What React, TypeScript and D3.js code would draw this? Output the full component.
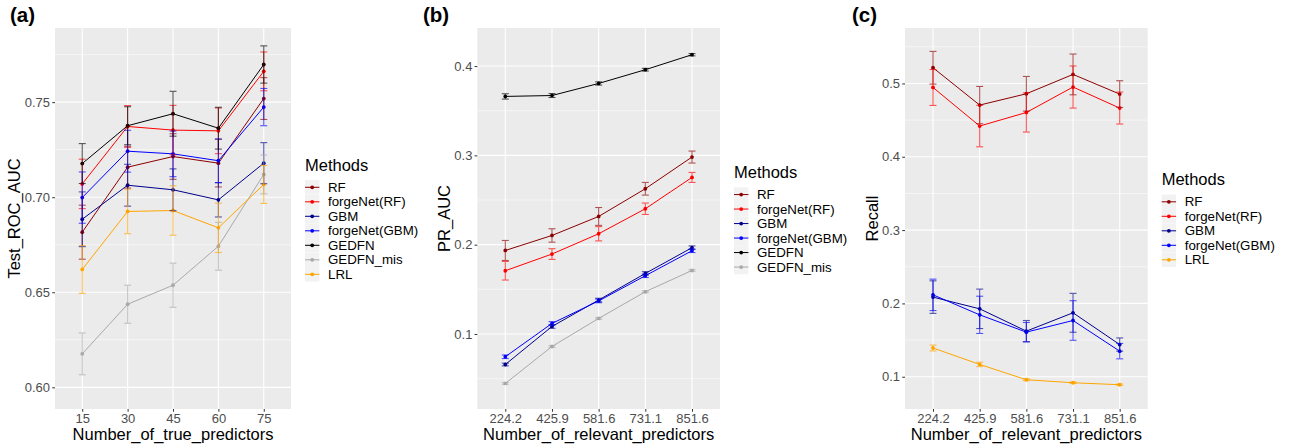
import React, { useRef, useEffect } from "react";
import * as d3 from "d3";

// ---- data ----
const methods = ["RF", "forgeNet(RF)", "GBM", "forgeNet(GBM)", "GEDFN", "GEDFN_mis", "LRL"];
const methodColors = ["#8B0000", "#FF0000", "#00008B", "#0000FF", "#000000", "#A9A9A9", "#FFA500"];

// (a) Test_ROC_AUC
const aCats = ["15", "30", "45", "60", "75"];
const aRF = [0.6816, 0.7158, 0.7214, 0.7179, 0.7519];
const aRFErr = [0.0142, 0.011, 0.012, 0.0125, 0.011];
const aFRF = [0.707, 0.7372, 0.7353, 0.7349, 0.7662];
const aFRFErr = [0.013, 0.011, 0.013, 0.012, 0.0102];
const aGBM = [0.6884, 0.7063, 0.7039, 0.6986, 0.7179];
const aGBMErr = [0.0144, 0.011, 0.011, 0.009, 0.0108];
const aFGBM = [0.6998, 0.7242, 0.7228, 0.7192, 0.7474];
const aFGBMErr = [0.0135, 0.011, 0.012, 0.0115, 0.0098];
const aGEDFN = [0.7177, 0.7376, 0.7439, 0.7363, 0.7698];
const aGEDFNErr = [0.0105, 0.01, 0.0118, 0.011, 0.0098];
const aMis = [0.6176, 0.6437, 0.6537, 0.6742, 0.712];
const aMisErr = [0.011, 0.01, 0.0116, 0.0126, 0.0102];
const aLRL = [0.662, 0.6925, 0.693, 0.6839, 0.7067];
const aLRLErr = [0.0126, 0.0117, 0.013, 0.013, 0.01];

// (b) PR_AUC
const bCats = ["224.2", "425.9", "581.6", "731.1", "851.6"];
const bRF = [0.1935, 0.2103, 0.2316, 0.2626, 0.2981];
const bRFErr = [0.0112, 0.0075, 0.01, 0.0071, 0.0067];
const bFRF = [0.1708, 0.1895, 0.2122, 0.2402, 0.2753];
const bFRFErr = [0.0104, 0.006, 0.008, 0.0064, 0.0056];
const bGBM = [0.0658, 0.1084, 0.138, 0.1678, 0.1966];
const bGBMErr = [0.0015, 0.002, 0.002, 0.002, 0.002];
const bFGBM = [0.0745, 0.1118, 0.137, 0.1652, 0.1932];
const bFGBMErr = [0.002, 0.002, 0.002, 0.002, 0.002];
const bGEDFN = [0.366, 0.367, 0.3805, 0.3959, 0.4127];
const bGEDFNErr = [0.003, 0.0022, 0.0018, 0.0015, 0.0013];
const bMis = [0.0446, 0.086, 0.1174, 0.1473, 0.1711];
const bMisErr = [0.001, 0.001, 0.001, 0.001, 0.001];

// (c) Recall
const cCats = ["224.2", "425.9", "581.6", "731.1", "851.6"];
const cRF = [0.5214, 0.4705, 0.4859, 0.5123, 0.4855];
const cRFErr = [0.0223, 0.0254, 0.0236, 0.0278, 0.0182];
const cFRF = [0.4945, 0.4419, 0.4604, 0.4951, 0.4664];
const cFRFErr = [0.0245, 0.0283, 0.0267, 0.0287, 0.0218];
const cGBM = [0.2086, 0.1926, 0.1622, 0.1872, 0.1439];
const cGBMErr = [0.0222, 0.0269, 0.0145, 0.0265, 0.009];
const cFGBM = [0.2117, 0.1844, 0.1608, 0.1767, 0.1349];
const cFGBMErr = [0.0214, 0.0254, 0.0132, 0.027, 0.0105];
const cLRL = [0.1392, 0.1168, 0.0959, 0.0918, 0.0891];
const cLRLErr = [0.004, 0.003, 0.0012, 0.001, 0.001];

const W = 1290;
const H = 448;
const TOP = 28;
const BOTTOM = 409;
const FONT = "'Liberation Sans', Arial, Helvetica, sans-serif";

const panels = [
  {
    tag: "(a)", tagX: 10, left: 55, right: 291,
    yTitle: "Test_ROC_AUC", yTitleX: 20, xTitle: "Number_of_true_predictors",
    cats: aCats, domain: [0.5886, 0.789], major: [0.6, 0.65, 0.7, 0.75], minor: [0.625, 0.675, 0.725, 0.775], fmt: ".2f",
    series: [
      { m: 0, v: aRF, e: aRFErr }, { m: 1, v: aFRF, e: aFRFErr }, { m: 2, v: aGBM, e: aGBMErr },
      { m: 3, v: aFGBM, e: aFGBMErr }, { m: 4, v: aGEDFN, e: aGEDFNErr }, { m: 5, v: aMis, e: aMisErr },
      { m: 6, v: aLRL, e: aLRLErr },
    ],
  },
  {
    tag: "(b)", tagX: 423, left: 477.3, right: 720,
    yTitle: "PR_AUC", yTitleX: 450, xTitle: "Number_of_relevant_predictors",
    cats: bCats, domain: [0.016, 0.4426], major: [0.1, 0.2, 0.3, 0.4], minor: [0.05, 0.15, 0.25, 0.35], fmt: ".1f",
    series: [
      { m: 0, v: bRF, e: bRFErr }, { m: 1, v: bFRF, e: bFRFErr }, { m: 2, v: bGBM, e: bGBMErr },
      { m: 3, v: bFGBM, e: bFGBMErr }, { m: 4, v: bGEDFN, e: bGEDFNErr }, { m: 5, v: bMis, e: bMisErr },
    ],
  },
  {
    tag: "(c)", tagX: 852, left: 905, right: 1147.7,
    yTitle: "Recall", yTitleX: 878, xTitle: "Number_of_relevant_predictors",
    cats: cCats, domain: [0.056, 0.5756], major: [0.1, 0.2, 0.3, 0.4, 0.5], minor: [0.15, 0.25, 0.35, 0.45, 0.55], fmt: ".1f",
    series: [
      { m: 0, v: cRF, e: cRFErr }, { m: 1, v: cFRF, e: cFRFErr }, { m: 2, v: cGBM, e: cGBMErr },
      { m: 3, v: cFGBM, e: cFGBMErr }, { m: 6, v: cLRL, e: cLRLErr },
    ],
  },
];

const drawPanel = (svg, p) => {
  const x = d3.scalePoint().domain(p.cats).range([p.left, p.right]).padding(0.6);
  const y = d3.scaleLinear().domain(p.domain).range([BOTTOM, TOP]);
  const g = svg.append("g");

  // panel background + grid
  g.append("rect").attr("x", p.left).attr("y", TOP)
    .attr("width", p.right - p.left).attr("height", BOTTOM - TOP).attr("fill", "#EBEBEB");
  g.selectAll(".minor").data(p.minor).enter().append("line")
    .attr("x1", p.left).attr("x2", p.right).attr("y1", d => y(d)).attr("y2", d => y(d))
    .attr("stroke", "white").attr("stroke-width", 0.55);
  g.selectAll(".major").data(p.major).enter().append("line")
    .attr("x1", p.left).attr("x2", p.right).attr("y1", d => y(d)).attr("y2", d => y(d))
    .attr("stroke", "white").attr("stroke-width", 1.1);
  g.selectAll(".vmajor").data(p.cats).enter().append("line")
    .attr("x1", d => x(d)).attr("x2", d => x(d)).attr("y1", TOP).attr("y2", BOTTOM)
    .attr("stroke", "white").attr("stroke-width", 1.1);

  // axes
  const yAxis = g.append("g").attr("transform", `translate(${p.left},0)`)
    .call(d3.axisLeft(y).tickValues(p.major).tickFormat(d3.format(p.fmt)).tickSize(2.75).tickPadding(2.2));
  const xAxis = g.append("g").attr("transform", `translate(0,${BOTTOM})`)
    .call(d3.axisBottom(x).tickSize(2.75).tickPadding(2.5));
  [yAxis, xAxis].forEach(a => {
    a.select(".domain").remove();
    a.selectAll(".tick line").attr("stroke", "#333333").attr("stroke-width", 1);
    a.selectAll(".tick text").attr("fill", "#4D4D4D").attr("font-size", 13).attr("font-family", FONT);
  });

  // lines, points, error bars
  const line = d3.line().x((d, i) => x(p.cats[i])).y(d => y(d));
  p.series.forEach(s => {
    g.append("path").attr("d", line(s.v)).attr("fill", "none")
      .attr("stroke", methodColors[s.m]).attr("stroke-width", 1);
  });
  p.series.forEach(s => {
    g.selectAll(null).data(s.v).enter().append("circle")
      .attr("cx", (d, i) => x(p.cats[i])).attr("cy", d => y(d)).attr("r", 1.9)
      .attr("fill", methodColors[s.m]);
  });
  p.series.forEach(s => {
    const eb = g.append("g").attr("stroke", methodColors[s.m]).attr("stroke-width", 1.1).attr("opacity", 0.65);
    s.v.forEach((v, i) => {
      const cx = x(p.cats[i]);
      const lo = y(v - s.e[i]);
      const hi = y(v + s.e[i]);
      eb.append("line").attr("x1", cx).attr("x2", cx).attr("y1", lo).attr("y2", hi);
      eb.append("line").attr("x1", cx - 3.5).attr("x2", cx + 3.5).attr("y1", lo).attr("y2", lo);
      eb.append("line").attr("x1", cx - 3.5).attr("x2", cx + 3.5).attr("y1", hi).attr("y2", hi);
    });
  });

  // titles
  svg.append("text").attr("x", (p.left + p.right) / 2).attr("y", 440)
    .attr("text-anchor", "middle").attr("font-size", 16.5).attr("font-family", FONT)
    .text(p.xTitle);
  svg.append("text").attr("transform", `translate(${p.yTitleX},${(TOP + BOTTOM) / 2}) rotate(-90)`)
    .attr("text-anchor", "middle").attr("font-size", 16.5).attr("font-family", FONT)
    .text(p.yTitle);
  svg.append("text").attr("x", p.tagX).attr("y", 21.5).attr("font-size", 20.5).attr("font-weight", "bold")
    .attr("font-family", FONT).text(p.tag);

  // legend
  const n = p.series.length;
  const lx = p.right + 14;
  const firstRow = 187.3 + (7 - n) * 7.25;
  const leg = svg.append("g");
  leg.append("text").attr("x", lx).attr("y", firstRow - 16.6).attr("font-size", 16.5)
    .attr("font-family", FONT).text("Methods");
  p.series.forEach((s, i) => {
    const cy = firstRow + i * 14.5;
    leg.append("rect").attr("x", lx).attr("y", cy - 7.2).attr("width", 14.4).attr("height", 14.4)
      .attr("fill", "#F2F2F2");
    leg.append("line").attr("x1", lx).attr("x2", lx + 14.4).attr("y1", cy).attr("y2", cy)
      .attr("stroke", methodColors[s.m]).attr("stroke-width", 1);
    leg.append("circle").attr("cx", lx + 7.2).attr("cy", cy).attr("r", 1.9).attr("fill", methodColors[s.m]);
    leg.append("text").attr("x", lx + 23).attr("y", cy + 4.6).attr("font-size", 13.3)
      .attr("font-family", FONT).text(methods[s.m]);
  });
};

const App = () => {
  const ref = useRef(null);

  useEffect(() => {
    const svg = d3.select(ref.current);
    svg.selectAll("*").remove();
    svg.append("rect").attr("width", W).attr("height", H).attr("fill", "white");
    panels.forEach(p => drawPanel(svg, p));
  }, []);

  return (
    <svg ref={ref} width={W} height={H} style={{ position: "absolute", left: 0, top: 0 }} />
  );
};

export default App;
